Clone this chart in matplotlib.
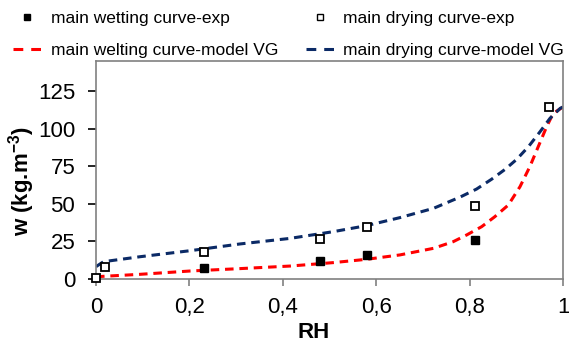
import matplotlib
matplotlib.use("Agg")
import matplotlib.pyplot as plt
from matplotlib.lines import Line2D

plt.rcParams['font.family'] = ['Liberation Sans', 'DejaVu Sans']
plt.rcParams['mathtext.fontset'] = 'custom'
plt.rcParams['mathtext.rm'] = 'Liberation Sans:bold'
plt.rcParams['mathtext.default'] = 'rm'

# experimental points
rh_wet_exp = [0.23, 0.48, 0.58, 0.81]
w_wet_exp = [7.1, 12.0, 15.7, 25.7]
rh_dry_exp = [0.0, 0.02, 0.23, 0.48, 0.58, 0.81, 0.97]
w_dry_exp = [0.5, 8.2, 17.7, 26.6, 34.4, 48.7, 114.2]

# van Genuchten model curves
rh_wet_model = [0.0, 0.094, 0.201, 0.308, 0.415, 0.508, 0.579, 0.650, 0.722, 0.764,
                0.793, 0.825, 0.853, 0.882, 0.907, 0.928, 0.946, 0.964, 0.978, 1.0]
w_wet_model = [1.5, 3.1, 5.3, 6.9, 8.6, 10.9, 13.1, 16.0, 20.4, 24.8,
               29.3, 34.8, 41.4, 49.2, 61.4, 74.7, 88.0, 101.3, 110.2, 114.6]
rh_dry_model = [0.0, 0.016, 0.094, 0.201, 0.308, 0.415, 0.508, 0.579, 0.650, 0.722,
                0.779, 0.814, 0.846, 0.875, 0.900, 0.925, 0.950, 0.971, 0.993, 1.0]
w_dry_model = [8.2, 11.5, 14.8, 18.8, 23.3, 27.0, 31.5, 35.5, 40.8, 47.0,
               54.5, 59.8, 66.3, 72.9, 79.6, 88.0, 98.0, 106.8, 113.5, 114.6]

x_ticks = [0, 0.2, 0.4, 0.6, 0.8, 1.0]
x_tick_labels = ["0", "0,2", "0,4", "0,6", "0,8", "1"]
y_ticks = [0, 25, 50, 75, 100, 125]

red = "#ff0000"
navy = "#0b2a66"
gray = "#808080"
dash = (0, (2.8, 1.9))
legend_dash = (0, (3.2, 2.6))

fig = plt.figure(figsize=(5.69, 3.44), dpi=100)
ax = fig.add_axes([0.1687, 0.189, 0.8216, 0.6337])

ax.plot(rh_wet_model, w_wet_model, color=red, lw=2.2, linestyle=dash, zorder=2)
ax.plot(rh_dry_model, w_dry_model, color=navy, lw=2.2, linestyle=dash, zorder=2)
ax.plot(rh_wet_exp, w_wet_exp, "s", color="black", ms=5.5, zorder=3)
ax.plot(rh_dry_exp, w_dry_exp, "s", mfc="white", mec="black", mew=1.3, ms=5.5, zorder=3,
        clip_on=False)

ax.set_xlim(0, 1)
ax.set_ylim(0, 145)
ax.set_xticks(x_ticks)
ax.set_xticklabels(x_tick_labels)
ax.set_yticks(y_ticks)

for s in ax.spines.values():
    s.set_color(gray)
    s.set_linewidth(1.2)

ax.tick_params(axis="y", direction="out", length=6, width=1.2, color="black",
               labelsize=16, pad=9)
ax.tick_params(axis="x", direction="out", length=5, width=1.2, color=gray,
               labelsize=16, pad=8)

ax.set_xlabel("RH", fontsize=16, fontweight="bold")
ax.xaxis.set_label_coords((314 - 96) / 467.5, (279 - 333) / 218)
ax.xaxis.label.set_va("center")
ax.set_ylabel("w (kg.m$^{-3}$)", fontsize=16, fontweight="bold")
ax.yaxis.set_label_coords((22 - 96) / 467.5, (279 - 181) / 218)
ax.yaxis.label.set_va("center")

handles = [
    Line2D([], [], ls="none", marker="s", color="black", ms=4.5),
    Line2D([], [], color=red, lw=2.2, linestyle=legend_dash),
    Line2D([], [], ls="none", marker="s", mfc="white", mec="black", mew=1.0, ms=4.5),
    Line2D([], [], color=navy, lw=2.2, linestyle=legend_dash),
]
labels = ["main wetting curve-exp", "main welting curve-model VG",
          "main drying curve-exp", "main drying curve-model VG"]
fig.legend(handles, labels, ncol=2, frameon=False, fontsize=12.5,
           loc="upper left", bbox_to_anchor=(-0.001, 1.01),
           handlelength=1.6, handletextpad=0.55, columnspacing=1.6,
           labelspacing=1.0, borderpad=0.3)

fig.savefig("out.png", dpi=100)
